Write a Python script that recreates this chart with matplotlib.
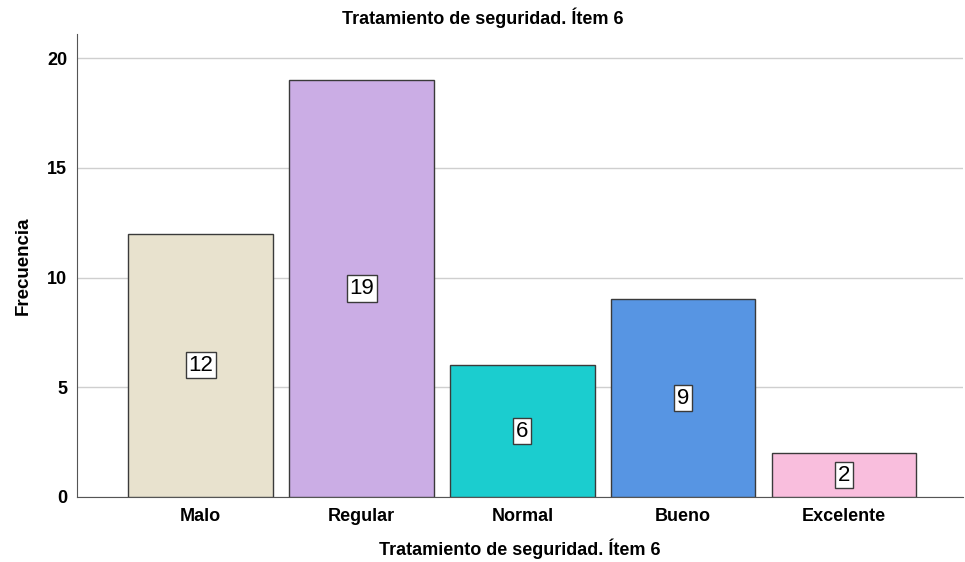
import matplotlib
matplotlib.use("Agg")
import matplotlib.pyplot as plt

categories = ["Malo", "Regular", "Normal", "Bueno", "Excelente"]
values = [12, 19, 6, 9, 2]
colors = ["#E8E2CE", "#CBADE5", "#1BCDCF", "#5795E3", "#F9BEDD"]
yticks = [0, 5, 10, 15, 20]

plt.rcParams['font.family'] = ['Liberation Sans', 'DejaVu Sans']

fig = plt.figure(figsize=(9.65, 5.62), dpi=100)
ax = fig.add_axes([0.0798, 0.1157, 0.918, 0.824])

x = list(range(len(categories)))
ax.bar(x, values, width=0.9, color=colors, edgecolor="#3a3a3a", linewidth=1.0, zorder=3)
for xi, v in zip(x, values):
    ax.text(xi, v / 2, str(v), ha="center", va="center", fontsize=16,
            bbox=dict(boxstyle="square,pad=0.12", fc="white", ec="#3a3a3a", lw=1.0), zorder=4)

ax.set_xlim(-0.77, 4.74)
ax.set_ylim(0, 21.1)
ax.set_xticks(x)
ax.set_xticklabels(categories, fontsize=13, fontweight="bold")
ax.set_yticks(yticks)
ax.set_yticklabels([str(t) for t in yticks], fontsize=13, fontweight="bold")
ax.tick_params(axis="x", length=0, pad=8)
ax.tick_params(axis="y", length=0, pad=7)
ax.yaxis.grid(True, color="#cfcfcf", linewidth=1.0, zorder=0)
for s in ["top", "right"]:
    ax.spines[s].set_visible(False)
ax.spines["left"].set_color("#555555")
ax.spines["bottom"].set_color("#555555")

ax.set_ylabel("Frecuencia", fontsize=13.5, fontweight="bold", labelpad=11)
ax.set_xlabel("Tratamiento de seguridad. Ítem 6", fontsize=13, fontweight="bold", labelpad=10)
fig.text(0.5, 0.968, "Tratamiento de seguridad. Ítem 6", ha="center", va="center", fontsize=13, fontweight="bold")

fig.savefig("out.png", dpi=100)
